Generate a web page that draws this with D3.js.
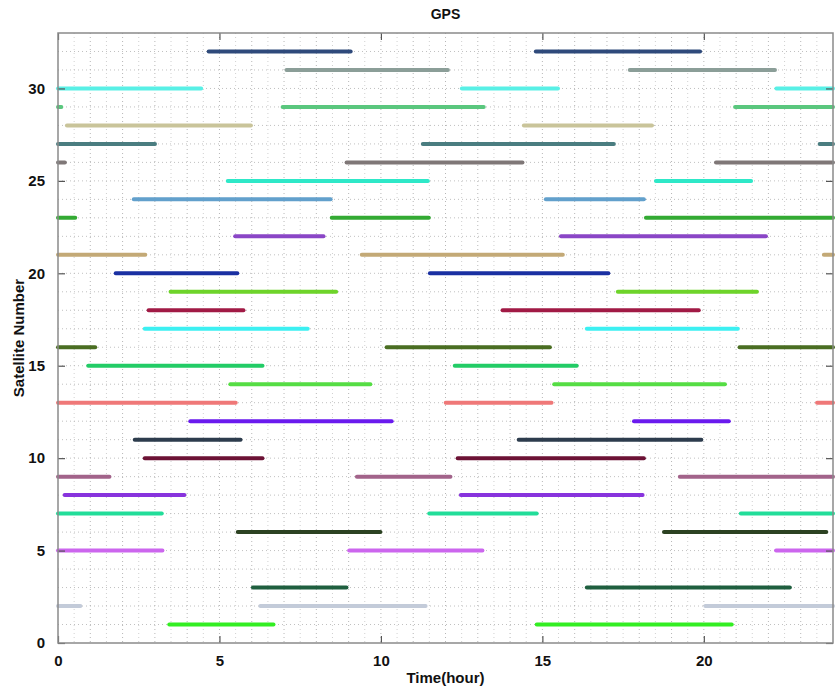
<!DOCTYPE html>
<html>
<head>
<meta charset="utf-8">
<script src="https://cdn.jsdelivr.net/npm/d3@7"></script>
<style>
  body { margin: 0; background: #fff; }
  svg text { font-family: "Liberation Sans", Arial, sans-serif; font-weight: bold; fill: #111; }
</style>
</head>
<body>
<svg id="chart" width="835" height="688"></svg>
<script>
'use strict'

// ------ Data: visibility windows (hour) per GPS satellite ------
var satellites = d3.range(1, 33)

var windows = {
  1: [[3.40, 6.72], [14.78, 20.91]],
  2: [[0, 0.74], [6.22, 11.43], [20.0, 24]],
  3: [[5.99, 8.98], [16.33, 22.71]],
  4: [],
  5: [[0, 3.28], [8.97, 13.19], [22.19, 24]],
  6: [[5.52, 10.03], [18.72, 23.84]],
  7: [[0, 3.26], [11.45, 14.87], [21.10, 24]],
  8: [[0.16, 3.96], [12.43, 18.15]],
  9: [[0, 1.64], [9.21, 12.20], [19.21, 24]],
  10: [[2.64, 6.38], [12.33, 18.19]],
  11: [[2.33, 5.70], [14.22, 19.97]],
  12: [[4.05, 10.38], [17.79, 20.82]],
  13: [[0, 5.55], [11.96, 15.33], [23.46, 24]],
  14: [[5.29, 9.72], [15.32, 20.70]],
  15: [[0.89, 6.38], [12.24, 16.11]],
  16: [[0, 1.20], [10.13, 15.28], [21.06, 24]],
  17: [[2.64, 7.78], [16.33, 21.10]],
  18: [[2.76, 5.79], [13.72, 19.89]],
  19: [[3.44, 8.66], [17.29, 21.69]],
  20: [[1.74, 5.60], [11.47, 17.09]],
  21: [[0, 2.75], [9.36, 15.68], [23.67, 24]],
  22: [[5.44, 8.27], [15.53, 21.97]],
  23: [[0, 0.58], [8.43, 11.53], [18.16, 24]],
  24: [[2.30, 8.49], [15.06, 18.19]],
  25: [[5.21, 11.50], [18.47, 21.51]],
  26: [[0, 0.26], [8.89, 14.43], [20.33, 24]],
  27: [[0, 3.05], [11.25, 17.26], [23.54, 24]],
  28: [[0.23, 6.02], [14.38, 18.44]],
  29: [[0, 0.15], [6.91, 13.23], [20.92, 24]],
  30: [[0, 4.48], [12.46, 15.53], [22.20, 24]],
  31: [[7.03, 12.12], [17.66, 22.25]],
  32: [[4.62, 9.11], [14.75, 19.93]]
}

var palette = [
  '#33ee22', '#c3cbd9', '#1f5f3f', '#999999', '#cc66ee', '#2c4222', '#22dd99', '#8833dd',
  '#a2638a', '#6c1235', '#2d3c4d', '#6a1aee', '#ef7878', '#55dd44', '#22cc66', '#4a6e22',
  '#3cf0f2', '#a11a45', '#6ed42a', '#1a30a2', '#c3a976', '#8a46c6', '#33aa33', '#62a0cc',
  '#2ee8c8', '#7f7777', '#4a7d80', '#c9c49a', '#5ac77e', '#58f0e6', '#8b9e98', '#2f4a7b'
]

var xTicks = [0, 5, 10, 15, 20]
var yTicks = [0, 5, 10, 15, 20, 25, 30]

// ------ Layout ------
var margin = { top: 33, right: 2, bottom: 45, left: 58 }
var width = 835 - margin.left - margin.right
var height = 688 - margin.top - margin.bottom

var svg = d3.select('#chart')
var g = svg.append('g').attr('transform', 'translate(' + margin.left + ',' + margin.top + ')')

var x = d3.scaleLinear().domain([0, 24]).range([0, width])
var y = d3.scaleLinear().domain([0, 33]).range([height, 0])

// ------ Grid ------
g.append('g').selectAll('line')
  .data(d3.range(0.5, 24, 0.5))
  .join('line')
  .attr('x1', d => x(d)).attr('x2', d => x(d))
  .attr('y1', 0).attr('y2', height)
  .attr('stroke', (d) => d % 1 === 0 ? '#a4a4a4' : '#c4c4c4')
  .attr('stroke-width', 0.8)
  .attr('stroke-dasharray', '1,3')

g.append('g').selectAll('line')
  .data(d3.range(1, 33))
  .join('line')
  .attr('x1', 0).attr('x2', width)
  .attr('y1', d => y(d)).attr('y2', d => y(d))
  .attr('stroke', '#b0b0b0')
  .attr('stroke-width', 0.8)
  .attr('stroke-dasharray', '1,3')

// ------ Visibility bars ------
var segments = []
satellites.forEach(function (s, i) {
  windows[s].forEach(function (w) {
    segments.push({ sat: s, start: w[0], end: w[1], color: palette[i] })
  })
})

g.append('g').selectAll('line')
  .data(segments)
  .join('line')
  .attr('x1', d => x(d.start) + (d.start > 0 ? 1.5 : 0))
  .attr('x2', d => x(d.end) - (d.end < 24 ? 1.5 : 0))
  .attr('y1', d => y(d.sat)).attr('y2', d => y(d.sat))
  .attr('stroke', d => d.color)
  .attr('stroke-width', 4)
  .attr('stroke-linecap', 'round')

// ------ Axes (ticks inward on all four sides) ------
function styleAxis (sel) {
  sel.select('.domain').remove()
  sel.selectAll('.tick line').attr('stroke', '#555').attr('stroke-width', 1.2)
  sel.selectAll('.tick text').style('font-size', '15px').attr('fill', '#111')
}

g.append('g').attr('transform', 'translate(0,' + height + ')')
  .call(d3.axisBottom(x).tickValues(xTicks).tickSizeInner(-7).tickPadding(12).tickFormat(d3.format('d')))
  .call(styleAxis)

g.append('g')
  .call(d3.axisTop(x).tickValues(xTicks).tickSizeInner(-7).tickFormat(''))
  .call(styleAxis)

g.append('g')
  .call(d3.axisLeft(y).tickValues(yTicks).tickSizeInner(-7).tickPadding(13).tickFormat(d3.format('d')))
  .call(styleAxis)

g.append('g').attr('transform', 'translate(' + width + ',0)')
  .call(d3.axisRight(y).tickValues(yTicks).tickSizeInner(-7).tickFormat(''))
  .call(styleAxis)

g.append('rect')
  .attr('width', width).attr('height', height)
  .attr('fill', 'none')
  .attr('stroke', '#8a8a8a')
  .attr('stroke-width', 1.5)

// ------ Titles ------
svg.append('text')
  .attr('x', margin.left + width / 2).attr('y', 19)
  .attr('text-anchor', 'middle')
  .style('font-size', '14px')
  .text('GPS')

svg.append('text')
  .attr('x', margin.left + width / 2).attr('y', 683)
  .attr('text-anchor', 'middle')
  .style('font-size', '15px')
  .text('Time(hour)')

svg.append('text')
  .attr('transform', 'translate(24,' + (margin.top + height / 2) + ') rotate(-90)')
  .attr('text-anchor', 'middle')
  .style('font-size', '15px')
  .text('Satellite Number')
</script>
</body>
</html>
